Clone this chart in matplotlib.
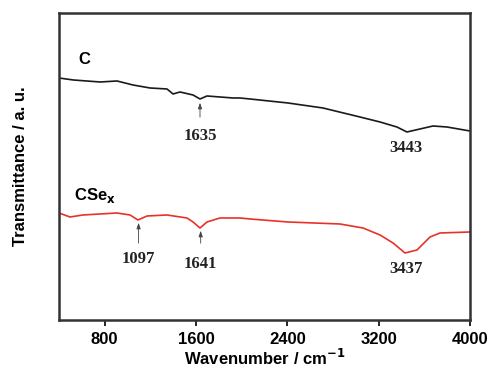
import numpy as np
import matplotlib
matplotlib.use('Agg')
import matplotlib.pyplot as plt

# spectra (wavenumber, transmittance a.u.)
wn_c = [400, 525, 760, 908, 1048, 1197, 1346, 1399, 1460, 1574, 1635, 1696, 1924, 1985,
        2073, 2406, 2712, 3036, 3212, 3360, 3448, 3562, 3676, 3798, 4000]
t_c = [2.42, 2.40, 2.38, 2.39, 2.35, 2.32, 2.31, 2.26, 2.28, 2.25, 2.21, 2.24, 2.22, 2.22,
       2.21, 2.17, 2.12, 2.03, 1.98, 1.93, 1.88, 1.91, 1.94, 1.93, 1.89]

wn_cse = [400, 496, 610, 908, 1022, 1092, 1171, 1346, 1521, 1574, 1635, 1696, 1810, 1985,
          2073, 2406, 2861, 3063, 3212, 3326, 3431, 3536, 3650, 3737, 4000]
t_cse = [1.07, 1.03, 1.05, 1.07, 1.05, 1.00, 1.04, 1.05, 1.02, 0.98, 0.92, 0.98, 1.02, 1.02,
         1.01, 0.98, 0.96, 0.92, 0.85, 0.77, 0.67, 0.70, 0.83, 0.87, 0.88]

# peak labels: (wavenumber label, x, arrow tip y, arrow tail y, text y, show arrow)
peaks_c = [("1635", 1635, 2.20, 2.00, 1.84, True), ("3443", 3443, None, None, 1.72, False)]
peaks_cse = [("1097", 1097, 1.00, 0.74, 0.61, True), ("1641", 1641, 0.92, 0.74, 0.56, True),
             ("3437", 3437, None, None, 0.51, False)]

sans = 'Liberation Sans'
serif = 'Liberation Serif'

fig = plt.figure(figsize=(4.93, 3.71), dpi=100)
ax = fig.add_axes([0.1197, 0.1375, 0.8336, 0.8275])

ax.plot(wn_c, t_c, color='#1a1a1a', lw=1.2)
ax.plot(wn_cse, t_cse, color='#e8312a', lw=1.2)

for peaks in (peaks_c, peaks_cse):
    for lab, x, tip, tail, ty, arrow in peaks:
        if arrow:
            ax.annotate('', xy=(x, tip), xytext=(x, tail),
                        arrowprops=dict(arrowstyle='-|>,head_length=0.35,head_width=0.12',
                                        color='#444444', lw=0.6))
        ax.text(x, ty, lab, ha='center', va='center', family=serif,
                fontweight='bold', fontsize=12, color='#222222')

ax.text(620, 2.6, 'C', family=sans, fontweight='bold', fontsize=12, ha='center', va='center')
ax.text(530, 1.24, r'CSe$_\mathbf{x}$', family=sans, fontweight='bold', fontsize=12,
        ha='left', va='center')

ax.set_xlim(400, 4000)
ax.set_ylim(0, 3.07)
ax.set_xticks([800, 1600, 2400, 3200, 4000])
ax.set_yticks([])
ax.tick_params(axis='x', direction='out', length=4, width=1.2, pad=5)
for lab in ax.get_xticklabels():
    lab.set_family(sans)
    lab.set_fontweight('bold')
    lab.set_fontsize(12)
for s in ax.spines.values():
    s.set_linewidth(1.8)
    s.set_color('#333333')

ax.set_xlabel(r'Wavenumber / cm$^{\mathbf{-1}}$', family=sans, fontweight='bold',
              fontsize=12, labelpad=0)
ax.set_ylabel('Transmittance / a. u.', family=sans, fontweight='bold', fontsize=12,
              labelpad=22)

fig.savefig('out.png', dpi=100)
